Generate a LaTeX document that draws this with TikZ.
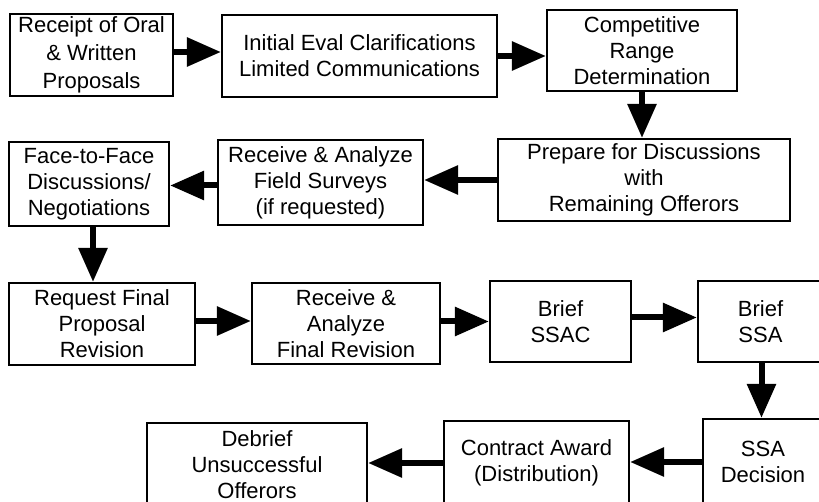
\documentclass[tikz,border=0pt]{standalone}
\usepackage{fontspec}
\setmainfont{Liberation Sans}
\usetikzlibrary{arrows.meta}
\begin{document}
\begin{tikzpicture}[x=1pt,y=-1pt,
  box/.style={draw=black, line width=2.2pt, rectangle, inner sep=0pt,
    align=center, font=\fontsize{22}{26}\selectfont},
  flow/.style={line width=6pt, -{Triangle[length=34pt,width=28pt]}}]
\useasboundingbox (0,0) rectangle (819,502);
\clip (0,0) rectangle (819,502);
% row 1
\node[box, minimum width=163pt, minimum height=82pt, font=\fontsize{22}{28}\selectfont]
  (recv) at (91.5,55) {Receipt of Oral\\\& Written\\Proposals};
\node[box, minimum width=275pt, minimum height=82pt] (init) at (359.5,56)
  {Initial Eval Clarifications\\Limited Communications};
\node[box, minimum width=190pt, minimum height=81pt] (range) at (642,50.5)
  {Competitive\\Range\\Determination};
% row 2
\node[box, minimum width=292pt, minimum height=82pt] (prep) at (644,180)
  {Prepare for Discussions\\with\\Remaining Offerors};
\node[box, minimum width=205pt, minimum height=85pt] (field) at (320.5,182.5)
  {Receive \& Analyze\\Field Surveys\\(if requested)};
\node[box, minimum width=160pt, minimum height=84pt] (face) at (89,184)
  {Face-to-Face\\Discussions/\\Negotiations};
% row 3
\node[box, minimum width=186pt, minimum height=82pt] (req) at (102,324)
  {Request Final\\Proposal\\Revision};
\node[box, minimum width=188pt, minimum height=81pt] (final) at (346,323.5)
  {Receive \&\\Analyze\\Final Revision};
\node[box, minimum width=141pt, minimum height=81pt] (ssac) at (560.5,321.5)
  {Brief\\SSAC};
\node[box, minimum width=125pt, minimum height=81pt] (ssa) at (760.5,321.5)
  {Brief\\SSA};
% row 4
\node[box, minimum width=120pt, minimum height=86pt] (dec) at (763,462)
  {SSA\\Decision};
\node[box, minimum width=185pt, minimum height=84pt] (award) at (536.5,463)
  {Contract Award\\(Distribution)};
\node[box, minimum width=220pt, minimum height=84pt] (debrief) at (257,465)
  {Debrief\\Unsuccessful\\Offerors};
% connectors
\draw[flow] ([yshift=3pt]recv.east) -- ([yshift=3pt]recv.east -| init.west);
\draw[flow] (init.east) -- (init.east -| range.west);
\draw[flow] (range.south) -- (range.south |- prep.north);
\draw[flow] (prep.west) -- (prep.west -| field.east);
\draw[flow] ([yshift=-3pt]field.west) -- ([yshift=-3pt]field.west -| face.east);
\draw[flow] ([xshift=4pt]face.south) -- ([xshift=4pt]face.south |- req.north);
\draw[flow] ([yshift=3pt]req.east) -- ([yshift=3pt]req.east -| final.west);
\draw[flow] ([yshift=2pt]final.east) -- ([yshift=2pt]final.east -| ssac.west);
\draw[flow] ([yshift=4pt]ssac.east) -- ([yshift=4pt]ssac.east -| ssa.west);
\draw[flow] ([xshift=1pt]ssa.south) -- ([xshift=1pt]ssa.south |- dec.north);
\draw[flow] (dec.west) -- (dec.west -| award.east);
\draw[flow] (award.west) -- (award.west -| debrief.east);
\end{tikzpicture}
\end{document}
